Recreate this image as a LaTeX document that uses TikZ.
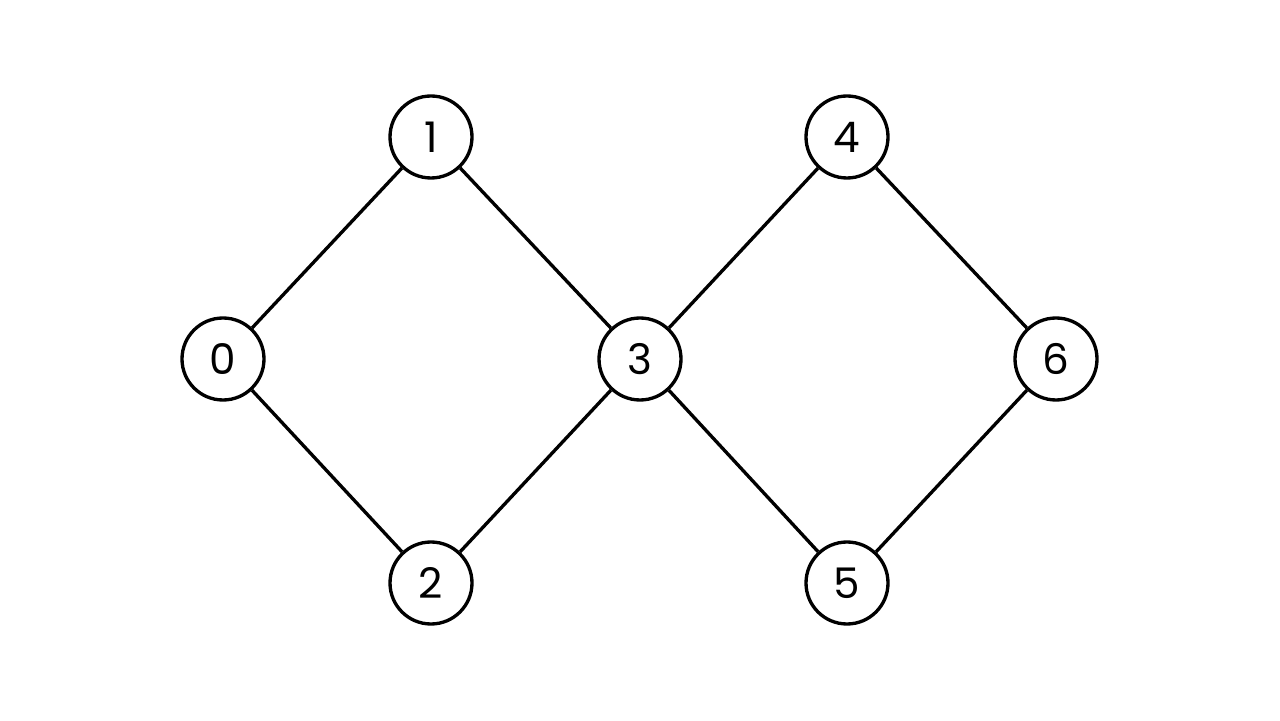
\documentclass[tikz,border=0pt]{standalone}
\usepackage{fontspec}
\setmainfont{Poppins}

\tikzset{
	vertex/.style={draw, circle, line width=1.9pt, minimum size=1.64cm, inner sep=0pt, font=\fontsize{24}{28}\selectfont},
	edge/.style={line width=1.9pt}
}

\begin{document}
\begin{tikzpicture}
	\useasboundingbox (0, 0) rectangle (25.6, 14.4);

	\node[vertex] (v0) at (4.46, 7.22) {0};
	\node[vertex] (v1) at (8.62, 11.66) {1};
	\node[vertex] (v2) at (8.62, 2.74) {2};
	\node[vertex] (v3) at (12.8, 7.22) {3};
	\node[vertex] (v4) at (16.94, 11.66) {4};
	\node[vertex] (v5) at (16.94, 2.74) {5};
	\node[vertex] (v6) at (21.12, 7.22) {6};

	\draw[edge] (v0) -- (v1);
	\draw[edge] (v0) -- (v2);
	\draw[edge] (v1) -- (v3);
	\draw[edge] (v2) -- (v3);
	\draw[edge] (v3) -- (v4);
	\draw[edge] (v3) -- (v5);
	\draw[edge] (v4) -- (v6);
	\draw[edge] (v5) -- (v6);

\end{tikzpicture}
\end{document}
